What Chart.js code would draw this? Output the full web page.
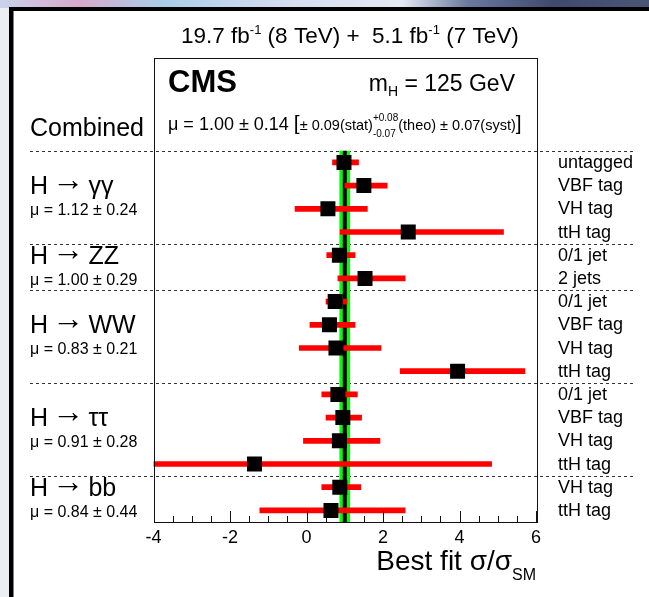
<!DOCTYPE html>
<html>
<head>
<meta charset="utf-8">
<script src="https://cdn.jsdelivr.net/npm/chart.js@4.4.1/dist/chart.umd.min.js"></script>
<style>
  html, body { margin: 0; padding: 0; background: #fff; }
  #wrap { position: relative; width: 649px; height: 597px; }
</style>
</head>
<body>
<div id="wrap"><canvas id="fitChart"></canvas></div>
<script>
// Catégories (une ligne par catégorie d'analyse, de haut en bas)
const rowLabels = ['untagged', 'VBF tag', 'VH tag', 'ttH tag',
                   '0/1 jet', '2 jets',
                   '0/1 jet', 'VBF tag', 'VH tag', 'ttH tag',
                   '0/1 jet', 'VBF tag', 'VH tag', 'ttH tag',
                   'VH tag', 'ttH tag'];
// Meilleur ajustement sigma/sigma_SM et intervalle à 68 %
const bestFit = [0.98, 1.50, 0.56, 2.66, 0.86, 1.53, 0.75, 0.60, 0.77, 3.95, 0.82, 0.95, 0.86, -1.36, 0.87, 0.64];
const errLow  = [0.68, 1.00, -0.30, 0.88, 0.53, 0.82, 0.51, 0.09, -0.19, 2.45, 0.40, 0.51, -0.08, -4.00, 0.40, -1.22];
const errHigh = [1.36, 2.11, 1.59, 5.15, 1.27, 2.58, 1.06, 1.27, 1.95, 5.71, 1.33, 1.44, 1.92, 4.84, 1.42, 2.58];

// Canaux : état final, mu combiné du canal, première et dernière ligne
const channels    = ['γγ', 'ZZ', 'WW', 'ττ', 'bb'];
const channelMu   = ['μ = 1.12 ± 0.24', 'μ = 1.00 ± 0.29', 'μ = 0.83 ± 0.21', 'μ = 0.91 ± 0.28', 'μ = 0.84 ± 0.44'];
const channelRows = [[0, 3], [4, 5], [6, 9], [10, 13], [14, 15]];

// Résultat combiné
const combinedMu = 1.00;
const combinedErr = 0.14;

// Graduations de l'axe x
const xMajorTicks = [-4, -2, 0, 2, 4, 6];

const FONT = '"Liberation Sans", Arial, Helvetica, sans-serif';
const font = (size, bold, fam) => (bold ? 'bold ' : '') + size + 'px ' + (fam || FONT);

/** Texte composé (exposants / indices) dessiné morceau par morceau */
function drawRich(ctx, x, y, parts, align) {
  const widthOf = p => {
    ctx.font = font(p.s, p.b, p.f);
    if (p.up) return Math.max(ctx.measureText(p.up).width, ctx.measureText(p.dn).width);
    return ctx.measureText(p.t).width;
  };
  const total = parts.reduce((acc, p) => acc + widthOf(p), 0);
  let cx = align === 'right' ? x - total : x;
  ctx.textAlign = 'left';
  ctx.textBaseline = 'alphabetic';
  parts.forEach(p => {
    const w = widthOf(p);
    ctx.font = font(p.s, p.b, p.f);
    if (p.up) {
      ctx.fillText(p.up, cx, y + p.dyUp);
      ctx.fillText(p.dn, cx, y + p.dyDn);
    } else {
      ctx.fillText(p.t, cx, y + (p.dy || 0));
    }
    cx += w;
  });
}

const cmsPlugin = {
  id: 'cmsDecor',
  beforeDraw(chart) {
    const { ctx, width, height } = chart;
    ctx.save();
    ctx.fillStyle = '#fff';
    ctx.fillRect(0, 0, width, height);
    ctx.fillStyle = '#eceef1';
    ctx.fillRect(0, 0, 9, height);
    // bandeau photo en haut
    const g = ctx.createLinearGradient(0, 0, width, 0);
    g.addColorStop(0, '#c9d3ea');
    g.addColorStop(0.12, '#d9a9cb');
    g.addColorStop(0.25, '#a9cdea');
    g.addColorStop(0.45, '#d6def0');
    g.addColorStop(0.62, '#e4e9f3');
    g.addColorStop(0.72, '#6b7aa0');
    g.addColorStop(0.85, '#3f4a6e');
    g.addColorStop(1, '#4a5578');
    ctx.fillStyle = g;
    ctx.fillRect(0, 0, width, 8);
    ctx.fillStyle = '#000';
    ctx.fillRect(9, 7, width - 9, 4);
    ctx.fillRect(9, 7, 4.5, height - 7);
    ctx.restore();
  },
  beforeDatasetsDraw(chart) {
    const { ctx, chartArea: a, scales: { x, y } } = chart;
    ctx.save();
    // séparateurs entre canaux
    ctx.strokeStyle = '#333';
    ctx.lineWidth = 1;
    ctx.setLineDash([3, 3]);
    channelRows.forEach(([first]) => {
      const py = Math.round(y.getPixelForValue(first - 0.5)) + 0.5;
      ctx.beginPath();
      ctx.moveTo(30, py);
      ctx.lineTo(634, py);
      ctx.stroke();
    });
    ctx.setLineDash([]);
    // bande verte du résultat combiné + ligne noire
    const top = y.getPixelForValue(-0.5);
    const x0 = x.getPixelForValue(combinedMu - combinedErr);
    const x1 = x.getPixelForValue(combinedMu + combinedErr);
    ctx.fillStyle = '#00ff00';
    ctx.fillRect(x0, top, x1 - x0, a.bottom - top);
    const xm = x.getPixelForValue(combinedMu);
    ctx.fillStyle = '#000';
    ctx.fillRect(xm - 2, top, 4, a.bottom - top);
    ctx.restore();
  },
  afterDraw(chart) {
    const { ctx, chartArea: a, scales: { x, y } } = chart;
    ctx.save();
    // cadre
    ctx.strokeStyle = '#111';
    ctx.lineWidth = 1;
    ctx.strokeRect(Math.round(a.left) + 0.5, Math.round(a.top) + 0.5,
                   Math.round(a.right - a.left), Math.round(a.bottom - a.top));
    // graduations vers l'intérieur (style ROOT)
    ctx.beginPath();
    x.ticks.forEach(t => {
      const px = Math.round(x.getPixelForValue(t.value)) + 0.5;
      const len = xMajorTicks.includes(t.value) ? 11 : 6;
      ctx.moveTo(px, a.bottom);
      ctx.lineTo(px, a.bottom - len);
    });
    ctx.stroke();

    ctx.fillStyle = '#000';
    // titre lumi
    drawRich(ctx, 181, 43, [
      { t: '19.7 fb', s: 22.5 }, { t: '-1', s: 13, dy: -9 },
      { t: ' (8 TeV) +  5.1 fb', s: 22.5 }, { t: '-1', s: 13, dy: -9 },
      { t: ' (7 TeV)', s: 22.5 }
    ]);
    drawRich(ctx, 168, 92, [{ t: 'CMS', s: 31, b: true }]);
    drawRich(ctx, 515, 91, [
      { t: 'm', s: 23 }, { t: 'H', s: 14, dy: 5 }, { t: ' = 125 GeV', s: 23 }
    ], 'right');

    // ligne combinée
    drawRich(ctx, 30, y.getPixelForValue(-1.12), [{ t: 'Combined', s: 25 }]);
    drawRich(ctx, 168, y.getPixelForValue(-1.4), [
      { t: 'μ = 1.00 ± 0.14 ', s: 18 },
      { t: '[', s: 21 },
      { t: '± 0.09(stat)', s: 14.5 },
      { up: '+0.08', dn: '-0.07', s: 10, dyUp: -9, dyDn: 7 },
      { t: '(theo) ± 0.07(syst)', s: 14.5 },
      { t: ']', s: 21 }
    ]);

    // libellés des canaux
    channels.forEach((name, k) => {
      const [first, last] = channelRows[k];
      const c = (y.getPixelForValue(first) + y.getPixelForValue(last)) / 2;
      drawRich(ctx, 30, c - 3, [
        { t: 'H', s: 25 },
        { t: ' ', s: 14 },
        { t: '→', s: 32, dy: -4 },
        { t: ' ', s: 16 },
        { t: name, s: 25 }
      ]);
      drawRich(ctx, 30, c + 18, [{ t: channelMu[k], s: 16 }]);
    });

    // libellés des catégories à droite
    rowLabels.forEach((lab, i) => {
      drawRich(ctx, 558, y.getPixelForValue(i) + 5.5, [{ t: lab, s: 18 }]);
    });

    // titre de l'axe x
    drawRich(ctx, a.right, 570, [
      { t: 'Best fit σ/σ', s: 28 }, { t: 'SM', s: 16, dy: 10 }
    ], 'right');
    ctx.restore();
  }
};

Chart.defaults.font.family = FONT;
Chart.defaults.color = '#000';

new Chart(document.getElementById('fitChart'), {
  type: 'scatter',
  data: {
    datasets: [
      {
        type: 'scatter',
        label: 'Best fit',
        data: bestFit.map((v, i) => ({ x: v, y: i })),
        pointStyle: 'rect',
        pointRadius: 10.6,
        pointHoverRadius: 10.6,
        backgroundColor: '#000',
        borderColor: '#000',
        borderWidth: 0,
        order: 0
      },
      {
        type: 'bar',
        label: '68% CL',
        indexAxis: 'y',
        data: errLow.map((lo, i) => ({ x: [lo, errHigh[i]], y: i })),
        backgroundColor: '#ff0000',
        borderWidth: 0,
        barThickness: 5,
        order: 1
      }
    ]
  },
  options: {
    responsive: true,
    maintainAspectRatio: false,
    animation: false,
    events: [],
    layout: { padding: { left: 153.5, right: 113, top: 58, bottom: 0 } },
    plugins: {
      legend: { display: false },
      tooltip: { enabled: false },
      title: { display: false }
    },
    scales: {
      x: {
        type: 'linear',
        min: -4, max: 6,
        offset: false,
        beginAtZero: false,
        border: { display: false },
        grid: { display: false, drawTicks: false },
        ticks: {
          stepSize: 0.5,
          autoSkip: false,
          maxRotation: 0,
          padding: 5,
          color: '#000',
          font: { size: 18 },
          callback: v => (xMajorTicks.includes(v) ? String(v) : '')
        },
        afterFit: s => { s.height = 75; }
      },
      y: {
        type: 'linear',
        display: false,
        reverse: true,
        min: -4.5, max: 15.5,
        offset: false,
        grid: { display: false, offset: false }
      }
    }
  },
  plugins: [cmsPlugin]
});
</script>
</body>
</html>
